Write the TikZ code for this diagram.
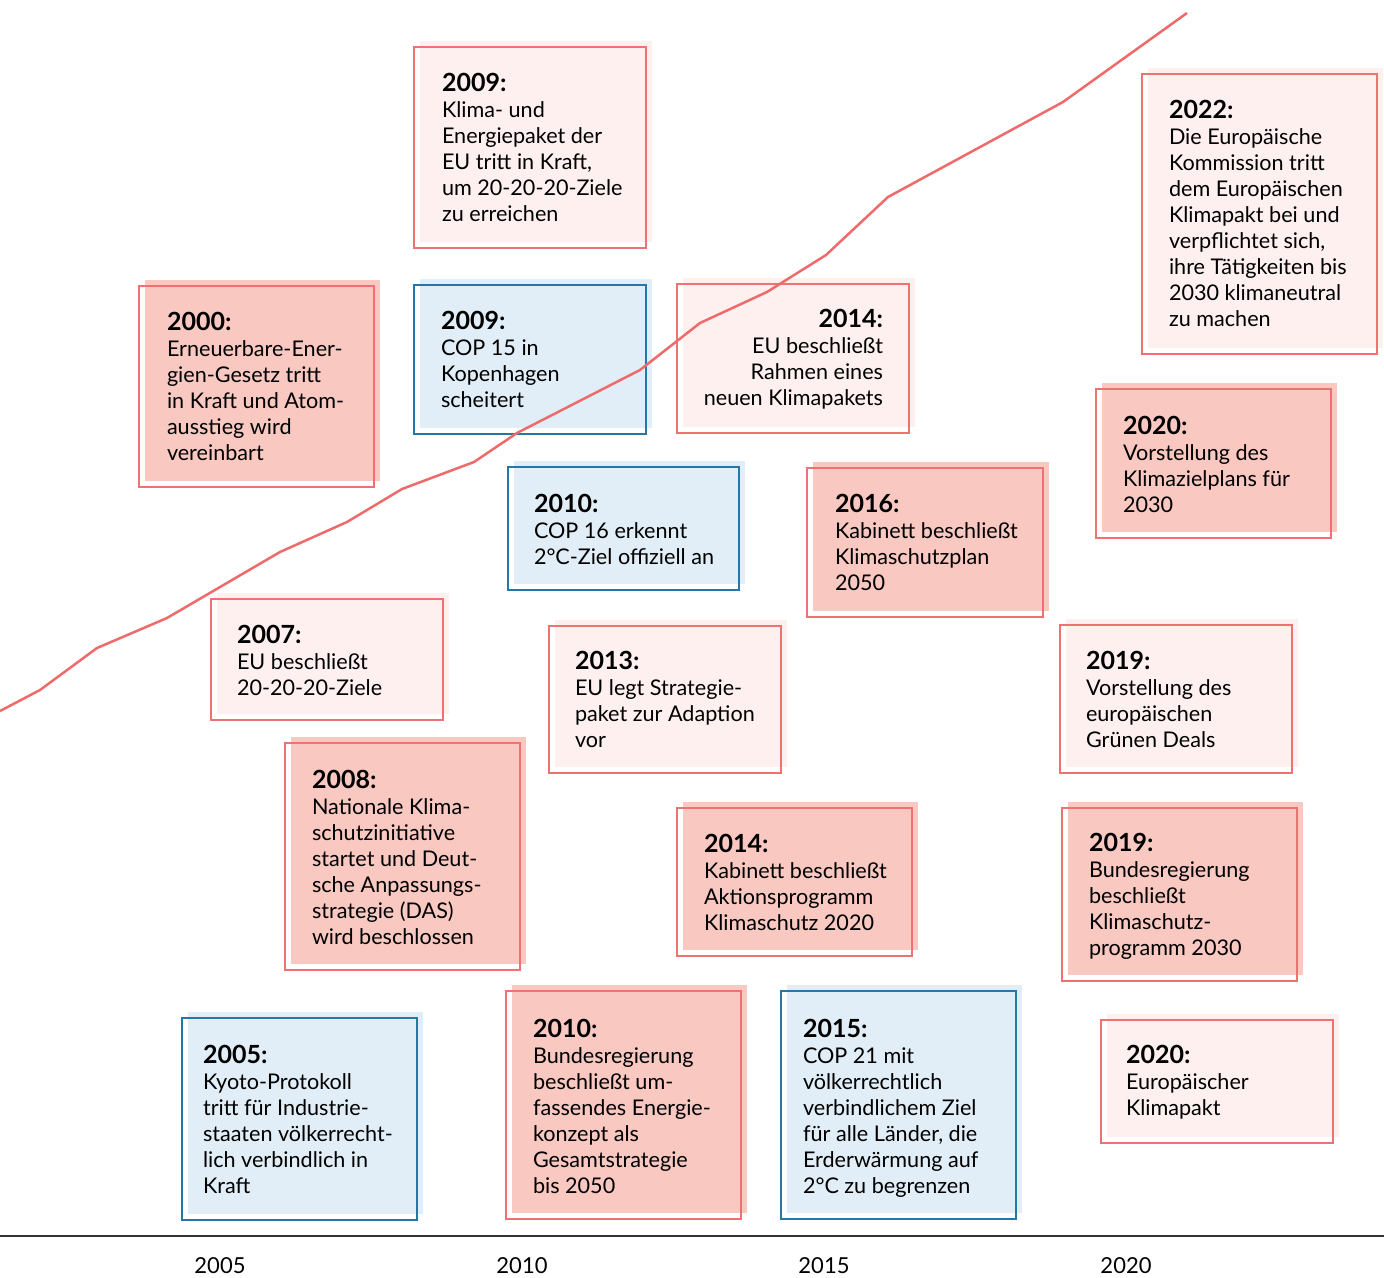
\documentclass[tikz,border=0pt]{standalone}
\usepackage{fontspec}
\setmainfont{Lato}
\definecolor{redline}{HTML}{EE6B6B}
\definecolor{rededge}{HTML}{EE7272}
\definecolor{medfill}{HTML}{F8C8C1}
\definecolor{lightfill}{HTML}{FDF0EF}
\definecolor{bluefill}{HTML}{E1EEF7}
\definecolor{blueedge}{HTML}{2677A6}
\definecolor{axisgray}{HTML}{333333}
\newcommand\evbox[6]{%
  \fill[#1,shift={(6,-6)}] (#3,#4) rectangle (#5,#6);
  \draw[#2,line width=1.3pt] (#3,#4) rectangle (#5,#6);}
\newcommand\evtext[5]{%
  \node[evtxt,anchor=base west] (#1) at (#2,#3) {\parbox[t]{330pt}{\raggedright\fontsize{21.6}{26}\selectfont{\fontsize{25}{26}\selectfont\bfseries #4}\\#5}};}
\begin{document}
\begin{tikzpicture}[x=1pt,y=-1pt,
  evtxt/.style={inner sep=0pt,outer sep=0pt,text=black},
  yearlbl/.style={inner sep=0pt,anchor=base,font=\fontsize{22}{24}\selectfont}]
\useasboundingbox (0,0) rectangle (1384,1277);
\fill[white] (0,0) rectangle (1384,1277);
% boxes
\evbox{lightfill}{rededge}{414}{47}{646}{248}
\evbox{medfill}{rededge}{139}{286}{374}{487}
\evbox{bluefill}{blueedge}{414}{285}{646}{434}
\evbox{lightfill}{rededge}{677}{284}{909}{433}
\evbox{lightfill}{rededge}{1142}{74}{1377}{354}
\evbox{bluefill}{blueedge}{508}{467}{739}{590}
\evbox{medfill}{rededge}{807}{468}{1043}{617}
\evbox{medfill}{rededge}{1096}{389}{1331}{538}
\evbox{lightfill}{rededge}{211}{599}{443}{720}
\evbox{lightfill}{rededge}{549}{626}{781}{773}
\evbox{lightfill}{rededge}{1060}{625}{1292}{773}
\evbox{medfill}{rededge}{285}{743}{520}{970}
\evbox{medfill}{rededge}{677}{808}{912}{956}
\evbox{medfill}{rededge}{1062}{808}{1297}{981}
\evbox{bluefill}{blueedge}{182}{1018}{417}{1220}
\evbox{medfill}{rededge}{506}{991}{741}{1219}
\evbox{bluefill}{blueedge}{781}{991}{1016}{1219}
\evbox{lightfill}{rededge}{1101}{1020}{1333}{1143}
% trend line
\draw[redline,line width=2.5pt,line join=round] (0,711) -- (40,690) -- (97,648) -- (167,618) -- (280,552) -- (347,522) -- (402,489) -- (474,462) -- (517,433) -- (640,370) -- (700,323) -- (767,292) -- (826,255) -- (888,197) -- (1063,102) -- (1187,13);
% texts
\evtext{t2009a}{442}{91}{2009:}{Klima- und\\Energiepaket der\\EU tritt in Kraft,\\um 20-20-20-Ziele\\zu erreichen}
\evtext{t2000}{167}{330}{2000:}{Erneuerbare-Ener-\\gien-Gesetz tritt\\in Kraft und Atom-\\ausstieg wird\\vereinbart}
\evtext{t2009b}{441}{329}{2009:}{COP 15 in\\Kopenhagen\\scheitert}
\node[evtxt,anchor=base east] (t2014a) at (883,327) {\parbox[t]{330pt}{\raggedleft\fontsize{21.6}{26}\selectfont{\fontsize{25}{26}\selectfont\bfseries 2014:}\\EU beschließt\\Rahmen eines\\neuen Klimapakets}};
\evtext{t2022}{1169}{118}{2022:}{Die Europäische\\Kommission tritt\\dem Europäischen\\Klimapakt bei und\\verpflichtet sich,\\ihre Tätigkeiten bis\\2030 klimaneutral\\zu machen}
\evtext{t2010a}{534}{512}{2010:}{COP 16 erkennt\\2°C-Ziel offiziell an}
\evtext{t2016}{835}{512}{2016:}{Kabinett beschließt\\Klimaschutzplan\\2050}
\evtext{t2020a}{1123}{434}{2020:}{Vorstellung des\\Klimazielplans für\\2030}
\evtext{t2007}{237}{643}{2007:}{EU beschließt\\20-20-20-Ziele}
\evtext{t2013}{575}{669}{2013:}{EU legt Strategie-\\paket zur Adaption\\vor}
\evtext{t2019a}{1086}{669}{2019:}{Vorstellung des\\europäischen\\Grünen Deals}
\evtext{t2008}{312}{788}{2008:}{Nationale Klima-\\schutzinitiative\\startet und Deut-\\sche Anpassungs-\\strategie (DAS)\\wird beschlossen}
\evtext{t2014b}{704}{852}{2014:}{Kabinett beschließt\\Aktionsprogramm\\Klimaschutz 2020}
\evtext{t2019b}{1089}{851}{2019:}{Bundesregierung\\beschließt\\Klimaschutz-\\programm 2030}
\evtext{t2005}{203}{1063}{2005:}{Kyoto-Protokoll\\tritt für Industrie-\\staaten völkerrecht-\\lich verbindlich in\\Kraft}
\evtext{t2010b}{533}{1037}{2010:}{Bundesregierung\\beschließt um-\\fassendes Energie-\\konzept als\\Gesamtstrategie\\bis 2050}
\evtext{t2015}{803}{1037}{2015:}{COP 21 mit\\völkerrechtlich\\verbindlichem Ziel\\für alle Länder, die\\Erderwärmung auf\\2°C zu begrenzen}
\evtext{t2020b}{1126}{1063}{2020:}{Europäischer\\Klimapakt}
% axis
\draw[axisgray,line width=1.5pt] (0,1236) -- (1384,1236);
\node[yearlbl] (y2005) at (220,1273) {2005};
\node[yearlbl] (y2010) at (522,1273) {2010};
\node[yearlbl] (y2015) at (824,1273) {2015};
\node[yearlbl] (y2020) at (1126,1273) {2020};
\end{tikzpicture}
\end{document}
